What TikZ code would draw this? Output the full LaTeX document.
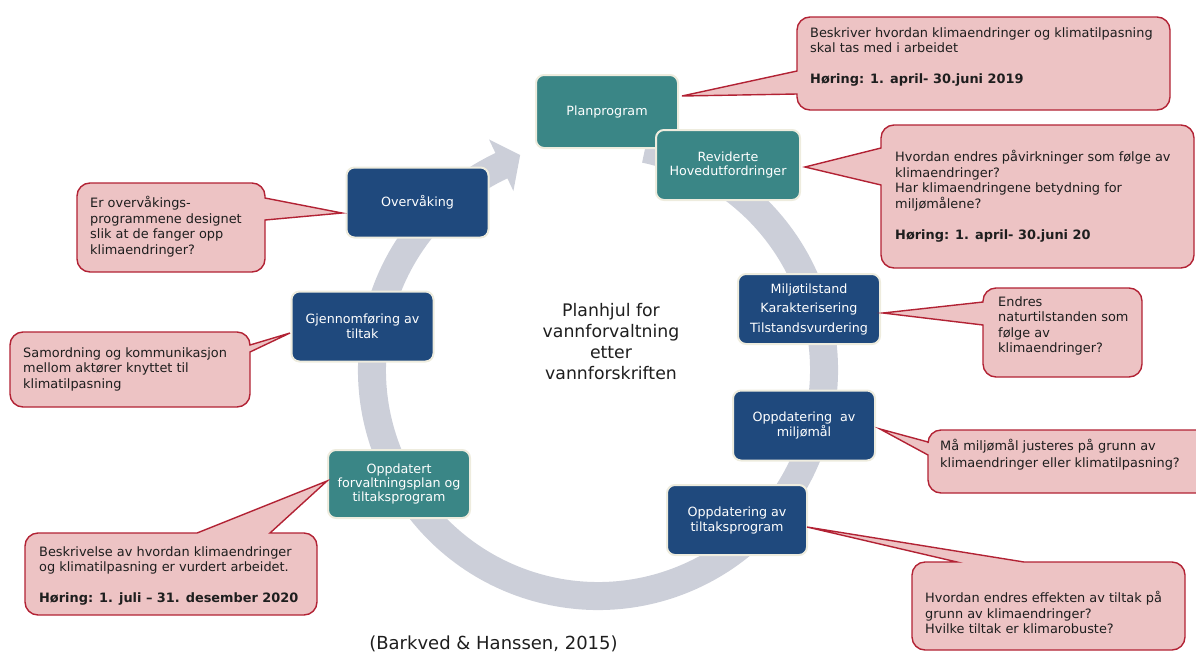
\documentclass[tikz,border=0pt]{standalone}
\usepackage{fontspec}
\setmainfont{DejaVu Sans}
\usetikzlibrary{calc}
\definecolor{ringgray}{RGB}{204,207,217}
\definecolor{tealbox}{RGB}{58,134,134}
\definecolor{navybox}{RGB}{31,73,125}
\definecolor{creamline}{RGB}{238,236,222}
\definecolor{pinkfill}{RGB}{237,195,196}
\definecolor{redline}{RGB}{178,34,52}
\definecolor{txt}{RGB}{30,30,30}
\newcommand{\bubrad}{13}
% pointer on left edge: x1,y1,x2,y2,yb1,yb2,tip
\newcommand{\bubL}[7]{\draw[bubble] ({#1+\bubrad},#2) -- ({#3-\bubrad},#2) arc[start angle=270,end angle=360,radius=\bubrad] -- (#3,{#4-\bubrad}) arc[start angle=0,end angle=90,radius=\bubrad] -- ({#1+\bubrad},#4) arc[start angle=90,end angle=180,radius=\bubrad] -- (#1,#6) -- (#7) -- (#1,#5) -- (#1,{#2+\bubrad}) arc[start angle=180,end angle=270,radius=\bubrad] -- cycle;}
% pointer on right edge
\newcommand{\bubR}[7]{\draw[bubble] ({#1+\bubrad},#2) -- ({#3-\bubrad},#2) arc[start angle=270,end angle=360,radius=\bubrad] -- (#3,#5) -- (#7) -- (#3,#6) -- (#3,{#4-\bubrad}) arc[start angle=0,end angle=90,radius=\bubrad] -- ({#1+\bubrad},#4) arc[start angle=90,end angle=180,radius=\bubrad] -- (#1,{#2+\bubrad}) arc[start angle=180,end angle=270,radius=\bubrad] -- cycle;}
% pointer on top edge: x1,y1,x2,y2,xb1,xb2,tip
\newcommand{\bubT}[7]{\draw[bubble] (#1,{#2+\bubrad}) arc[start angle=180,end angle=270,radius=\bubrad] -- (#5,#2) -- (#7) -- (#6,#2) -- ({#3-\bubrad},#2) arc[start angle=270,end angle=360,radius=\bubrad] -- (#3,{#4-\bubrad}) arc[start angle=0,end angle=90,radius=\bubrad] -- ({#1+\bubrad},#4) arc[start angle=90,end angle=180,radius=\bubrad] -- cycle;}
\begin{document}
\begin{tikzpicture}[x=1pt,y=-1pt,
  box/.style={draw=creamline, line width=2pt, rounded corners=8pt, minimum width=142pt, minimum height=70pt, text=white, align=center, inner sep=2pt, font=\fontsize{12.7}{15}\selectfont},
  tealb/.style={box, fill=tealbox},
  navyb/.style={box, fill=navybox},
  bubble/.style={fill=pinkfill, draw=redline, line width=1.4pt, line join=miter},
  btext/.style={anchor=north west, inner sep=0pt, align=left, text=txt, font=\fontsize{12.9}{15.6}\selectfont},
]
\useasboundingbox (0,0) rectangle (1196,651);
% ring arrow
\coordinate (c) at (598,370);
\fill[ringgray] ($(c)+(-78:240)$) arc[start angle=-78, end angle=244.7, radius=240]
  -- ($(c)+(244.7:255)$) -- ($(c)+(250.1:228.7)$) -- ($(c)+(244.7:198)$)
  -- ($(c)+(244.7:212)$) arc[start angle=244.7, end angle=-78, radius=212] -- cycle;
% boxes
\node[tealb, minimum height=73pt] (plan) at (607,111.5) {Planprogram};
\node[tealb, minimum width=144pt, font=\fontsize{12.7}{14.5}\selectfont] (rev) at (728,165) {Reviderte\\Hovedutfordringer};
\node[navyb, font=\fontsize{12.7}{19.5}\selectfont] (milj) at (809,309) {Miljøtilstand\\Karakterisering\\Tilstandsvurdering};
\node[navyb] (mal) at (804,425.5) {Oppdatering\ \ av\\miljømål};
\node[navyb, minimum width=140pt] (tilt) at (737,520) {Oppdatering av\\tiltaksprogram};
\node[tealb, font=\fontsize{12.7}{14}\selectfont, minimum height=68pt] (forv) at (399,484) {Oppdatert\\forvaltningsplan og\\tiltaksprogram};
\node[navyb] (gjen) at (362.5,326.5) {Gjennomføring av\\tiltak};
\node[navyb] (over) at (417.5,202.5) {Overvåking};
% centre title and citation
\node[align=center, text=txt, font=\fontsize{17.3}{21}\selectfont] (title) at (611,342) {Planhjul for\\vannforvaltning\\etter\\vannforskriften};
\node[anchor=base, text=txt, font=\fontsize{18}{21}\selectfont] (cite) at (493.5,649) {(Barkved \& Hanssen, 2015)};
% callout tips
\coordinate (t1) at (682,96);
\coordinate (t2) at (805,167);
\coordinate (t3) at (883,313);
\coordinate (t4) at (880,429);
\coordinate (t5) at (807,527);
\coordinate (t6) at (342,213);
\coordinate (t7) at (290,333);
\coordinate (t8) at (327,481);
% callouts
\bubL{797}{17}{1170}{110}{71}{94}{t1}
\bubL{881}{125}{1194}{268}{148}{185}{t2}
\bubL{983}{288}{1142}{377}{302}{325}{t3}
\bubL{928}{430}{1210}{493}{442}{455}{t4}
\bubT{912}{562}{1185}{650}{957}{1024}{t5}
\bubR{77}{183}{265}{272}{198}{220}{t6}
\bubR{10}{332}{250}{407}{345}{352}{t7}
\bubT{25}{533}{317}{615}{197}{270}{t8}
% callout texts
\node[btext] (c1) at (810,27) {Beskriver hvordan klimaendringer og klimatilpasning\\skal tas med i arbeidet\\[15.6pt]\textbf{Høring: 1. april- 30.juni 2019}};
\node[btext] (c2) at (895,150) {Hvordan endres påvirkninger som følge av\\klimaendringer?\\Har klimaendringene betydning for\\miljømålene?\\[15.6pt]\textbf{Høring: 1. april- 30.juni 20}};
\node[btext] (c3) at (998,296) {Endres\\naturtilstanden som\\følge av\\klimaendringer?};
\node[btext, font=\fontsize{12.9}{16.7}\selectfont] (c4) at (940,439) {Må miljømål justeres på grunn av\\klimaendringer eller klimatilpasning?};
\node[btext] (c5) at (925,591) {Hvordan endres effekten av tiltak på\\grunn av klimaendringer?\\Hvilke tiltak er klimarobuste?};
\node[btext] (c6) at (90,196) {Er overvåkings-\\programmene designet\\slik at de fanger opp\\klimaendringer?};
\node[btext] (c7) at (23,347) {Samordning og kommunikasjon\\mellom aktører knyttet til\\klimatilpasning};
\node[btext] (c8) at (39,546) {Beskrivelse av hvordan klimaendringer\\og klimatilpasning er vurdert arbeidet.\\[15.6pt]\textbf{Høring: 1. juli – 31. desember 2020}};
\end{tikzpicture}
\end{document}
